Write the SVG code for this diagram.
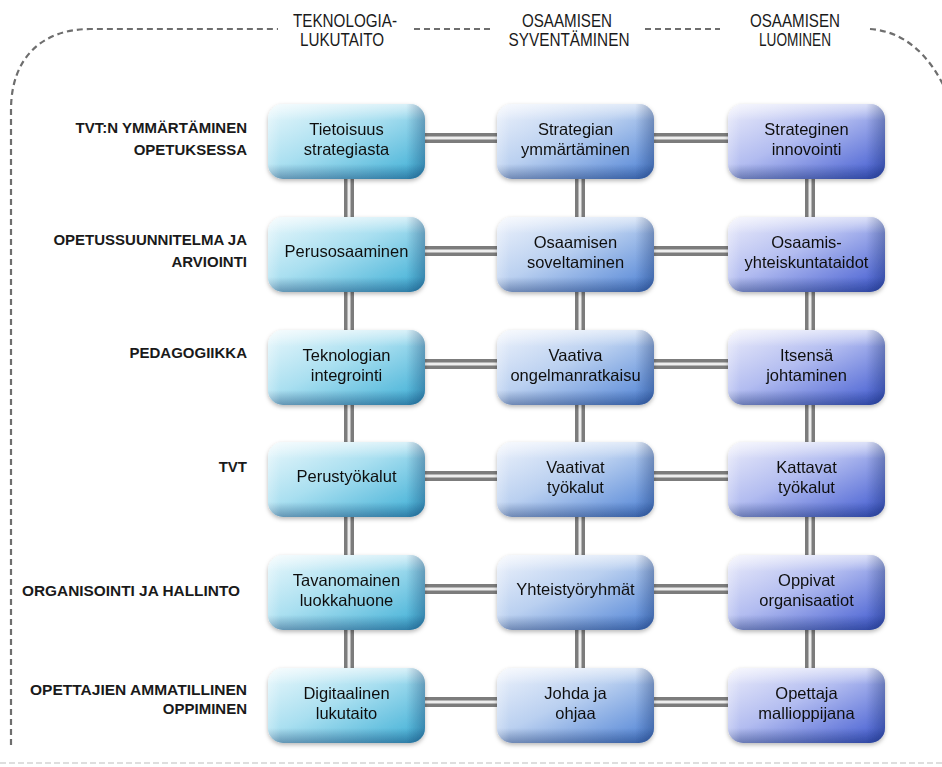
<svg xmlns="http://www.w3.org/2000/svg" width="942" height="767" viewBox="0 0 942 767">
<defs>
<linearGradient id="g1" x1="0" y1="0" x2="1" y2="1">
<stop offset="0" stop-color="#eaf8fc"/><stop offset="0.45" stop-color="#a9dff0"/><stop offset="1" stop-color="#38acd4"/>
</linearGradient>
<linearGradient id="g2" x1="0" y1="0" x2="1" y2="1">
<stop offset="0" stop-color="#eef3fc"/><stop offset="0.45" stop-color="#bad0f0"/><stop offset="1" stop-color="#4a7fd4"/>
</linearGradient>
<linearGradient id="g3" x1="0" y1="0" x2="1" y2="1">
<stop offset="0" stop-color="#ecedfb"/><stop offset="0.45" stop-color="#b2bcf0"/><stop offset="1" stop-color="#3c56cf"/>
</linearGradient>
<linearGradient id="shv" x1="0" y1="0" x2="0" y2="1">
<stop offset="0" stop-color="#ffffff" stop-opacity="0.55"/><stop offset="0.22" stop-color="#ffffff" stop-opacity="0"/><stop offset="0.8" stop-color="#0a2050" stop-opacity="0"/><stop offset="1" stop-color="#0a2050" stop-opacity="0.35"/>
</linearGradient>
<linearGradient id="shh" x1="0" y1="0" x2="1" y2="0">
<stop offset="0" stop-color="#ffffff" stop-opacity="0.25"/><stop offset="0.08" stop-color="#ffffff" stop-opacity="0"/><stop offset="0.88" stop-color="#0a2050" stop-opacity="0"/><stop offset="1" stop-color="#0a2050" stop-opacity="0.3"/>
</linearGradient>
<filter id="sh" x="-10%" y="-10%" width="120%" height="130%">
<feDropShadow dx="0" dy="2" stdDeviation="2" flood-color="#000" flood-opacity="0.28"/>
</filter>
</defs>
<style>
.bd{fill:none;stroke:#6e6e6e;stroke-width:2.2;stroke-dasharray:6 4}
.bf{fill:none;stroke:#d4d4d4;stroke-width:1.5;stroke-dasharray:6 3}
.po{stroke:#7c7c7c;stroke-width:10;fill:none}
.pi{stroke:#eeeeee;stroke-width:3;fill:none}
.hd{font-family:"Liberation Sans",Arial,sans-serif;font-size:18px;fill:#1a1a1a;text-anchor:middle}
.lb{font-family:"Liberation Sans",Arial,sans-serif;font-size:15px;font-weight:bold;fill:#1a1a1a;text-anchor:end}
.nt{font-family:"Liberation Sans",Arial,sans-serif;font-size:16.5px;fill:#111;text-anchor:middle}
.sv{fill:url(#shv)}
.sh{fill:url(#shh)}
</style>
<rect width="942" height="767" fill="#ffffff"/>
<g id="border">
<path class="bd" d="M11,745 L11,110 C11,55 45,29 90,29 L278,29 M414,29 L492,29 M645,29 L720,29 M870,29 C900,31 930,50 950,100"/>
<path class="bf" d="M0,763 L942,763"/>
</g>
<g id="headers">
<text class="hd" x="345" y="27" textLength="104" lengthAdjust="spacingAndGlyphs">TEKNOLOGIA-</text>
<text class="hd" x="342" y="46" textLength="84" lengthAdjust="spacingAndGlyphs">LUKUTAITO</text>
<text class="hd" x="567" y="27" textLength="90" lengthAdjust="spacingAndGlyphs">OSAAMISEN</text>
<text class="hd" x="569" y="46" textLength="121" lengthAdjust="spacingAndGlyphs">SYVENTÄMINEN</text>
<text class="hd" x="795" y="27" textLength="90" lengthAdjust="spacingAndGlyphs">OSAAMISEN</text>
<text class="hd" x="795" y="46" textLength="72" lengthAdjust="spacingAndGlyphs">LUOMINEN</text>
</g>
<g id="row-labels">
<text class="lb" x="247" y="133">TVT:N YMMÄRTÄMINEN</text>
<text class="lb" x="247" y="155">OPETUKSESSA</text>
<text class="lb" x="247" y="245">OPETUSSUUNNITELMA JA</text>
<text class="lb" x="247" y="267">ARVIOINTI</text>
<text class="lb" x="247" y="358">PEDAGOGIIKKA</text>
<text class="lb" x="247" y="472">TVT</text>
<text class="lb" x="240" y="596" textLength="218" lengthAdjust="spacingAndGlyphs">ORGANISOINTI JA HALLINTO</text>
<text class="lb" x="247" y="695" textLength="217" lengthAdjust="spacingAndGlyphs">OPETTAJIEN AMMATILLINEN</text>
<text class="lb" x="247" y="714">OPPIMINEN</text>
</g>
<g id="connectors">
<path class="po" d="M349,138H810M349,251H810M349,364H810M349,476H810M349,589H810M349,702H810M349,141V705M580,141V705M810,141V705"/>
<path class="pi" d="M349,138H810M349,251H810M349,364H810M349,476H810M349,589H810M349,702H810M349,141V705M580,141V705M810,141V705"/>
</g>
<g id="n11" filter="url(#sh)"><rect x="268" y="104" width="157" height="75" rx="15" fill="url(#g1)"/><rect x="268" y="104" width="157" height="75" rx="15" class="sv"/><rect x="268" y="104" width="157" height="75" rx="15" class="sh"/><text class="nt" x="346.5" y="135">Tietoisuus</text><text class="nt" x="346.5" y="155">strategiasta</text></g>
<g id="n12" filter="url(#sh)"><rect x="497" y="104" width="157" height="75" rx="15" fill="url(#g2)"/><rect x="497" y="104" width="157" height="75" rx="15" class="sv"/><rect x="497" y="104" width="157" height="75" rx="15" class="sh"/><text class="nt" x="575.5" y="135">Strategian</text><text class="nt" x="575.5" y="155">ymmärtäminen</text></g>
<g id="n13" filter="url(#sh)"><rect x="728" y="104" width="157" height="75" rx="15" fill="url(#g3)"/><rect x="728" y="104" width="157" height="75" rx="15" class="sv"/><rect x="728" y="104" width="157" height="75" rx="15" class="sh"/><text class="nt" x="806.5" y="135">Strateginen</text><text class="nt" x="806.5" y="155">innovointi</text></g>
<g id="n21" filter="url(#sh)"><rect x="268" y="217" width="157" height="75" rx="15" fill="url(#g1)"/><rect x="268" y="217" width="157" height="75" rx="15" class="sv"/><rect x="268" y="217" width="157" height="75" rx="15" class="sh"/><text class="nt" x="346.5" y="257">Perusosaaminen</text></g>
<g id="n22" filter="url(#sh)"><rect x="497" y="217" width="157" height="75" rx="15" fill="url(#g2)"/><rect x="497" y="217" width="157" height="75" rx="15" class="sv"/><rect x="497" y="217" width="157" height="75" rx="15" class="sh"/><text class="nt" x="575.5" y="248">Osaamisen</text><text class="nt" x="575.5" y="268">soveltaminen</text></g>
<g id="n23" filter="url(#sh)"><rect x="728" y="217" width="157" height="75" rx="15" fill="url(#g3)"/><rect x="728" y="217" width="157" height="75" rx="15" class="sv"/><rect x="728" y="217" width="157" height="75" rx="15" class="sh"/><text class="nt" x="806.5" y="248">Osaamis-</text><text class="nt" x="806.5" y="268">yhteiskuntataidot</text></g>
<g id="n31" filter="url(#sh)"><rect x="268" y="330" width="157" height="75" rx="15" fill="url(#g1)"/><rect x="268" y="330" width="157" height="75" rx="15" class="sv"/><rect x="268" y="330" width="157" height="75" rx="15" class="sh"/><text class="nt" x="346.5" y="361">Teknologian</text><text class="nt" x="346.5" y="381">integrointi</text></g>
<g id="n32" filter="url(#sh)"><rect x="497" y="330" width="157" height="75" rx="15" fill="url(#g2)"/><rect x="497" y="330" width="157" height="75" rx="15" class="sv"/><rect x="497" y="330" width="157" height="75" rx="15" class="sh"/><text class="nt" x="575.5" y="361">Vaativa</text><text class="nt" x="575.5" y="381">ongelmanratkaisu</text></g>
<g id="n33" filter="url(#sh)"><rect x="728" y="330" width="157" height="75" rx="15" fill="url(#g3)"/><rect x="728" y="330" width="157" height="75" rx="15" class="sv"/><rect x="728" y="330" width="157" height="75" rx="15" class="sh"/><text class="nt" x="806.5" y="361">Itsensä</text><text class="nt" x="806.5" y="381">johtaminen</text></g>
<g id="n41" filter="url(#sh)"><rect x="268" y="442" width="157" height="75" rx="15" fill="url(#g1)"/><rect x="268" y="442" width="157" height="75" rx="15" class="sv"/><rect x="268" y="442" width="157" height="75" rx="15" class="sh"/><text class="nt" x="346.5" y="482">Perustyökalut</text></g>
<g id="n42" filter="url(#sh)"><rect x="497" y="442" width="157" height="75" rx="15" fill="url(#g2)"/><rect x="497" y="442" width="157" height="75" rx="15" class="sv"/><rect x="497" y="442" width="157" height="75" rx="15" class="sh"/><text class="nt" x="575.5" y="473">Vaativat</text><text class="nt" x="575.5" y="493">työkalut</text></g>
<g id="n43" filter="url(#sh)"><rect x="728" y="442" width="157" height="75" rx="15" fill="url(#g3)"/><rect x="728" y="442" width="157" height="75" rx="15" class="sv"/><rect x="728" y="442" width="157" height="75" rx="15" class="sh"/><text class="nt" x="806.5" y="473">Kattavat</text><text class="nt" x="806.5" y="493">työkalut</text></g>
<g id="n51" filter="url(#sh)"><rect x="268" y="555" width="157" height="75" rx="15" fill="url(#g1)"/><rect x="268" y="555" width="157" height="75" rx="15" class="sv"/><rect x="268" y="555" width="157" height="75" rx="15" class="sh"/><text class="nt" x="346.5" y="586">Tavanomainen</text><text class="nt" x="346.5" y="606">luokkahuone</text></g>
<g id="n52" filter="url(#sh)"><rect x="497" y="555" width="157" height="75" rx="15" fill="url(#g2)"/><rect x="497" y="555" width="157" height="75" rx="15" class="sv"/><rect x="497" y="555" width="157" height="75" rx="15" class="sh"/><text class="nt" x="575.5" y="595">Yhteistyöryhmät</text></g>
<g id="n53" filter="url(#sh)"><rect x="728" y="555" width="157" height="75" rx="15" fill="url(#g3)"/><rect x="728" y="555" width="157" height="75" rx="15" class="sv"/><rect x="728" y="555" width="157" height="75" rx="15" class="sh"/><text class="nt" x="806.5" y="586">Oppivat</text><text class="nt" x="806.5" y="606">organisaatiot</text></g>
<g id="n61" filter="url(#sh)"><rect x="268" y="668" width="157" height="75" rx="15" fill="url(#g1)"/><rect x="268" y="668" width="157" height="75" rx="15" class="sv"/><rect x="268" y="668" width="157" height="75" rx="15" class="sh"/><text class="nt" x="346.5" y="699">Digitaalinen</text><text class="nt" x="346.5" y="719">lukutaito</text></g>
<g id="n62" filter="url(#sh)"><rect x="497" y="668" width="157" height="75" rx="15" fill="url(#g2)"/><rect x="497" y="668" width="157" height="75" rx="15" class="sv"/><rect x="497" y="668" width="157" height="75" rx="15" class="sh"/><text class="nt" x="575.5" y="699">Johda ja</text><text class="nt" x="575.5" y="719">ohjaa</text></g>
<g id="n63" filter="url(#sh)"><rect x="728" y="668" width="157" height="75" rx="15" fill="url(#g3)"/><rect x="728" y="668" width="157" height="75" rx="15" class="sv"/><rect x="728" y="668" width="157" height="75" rx="15" class="sh"/><text class="nt" x="806.5" y="699">Opettaja</text><text class="nt" x="806.5" y="719">mallioppijana</text></g>
</svg>
